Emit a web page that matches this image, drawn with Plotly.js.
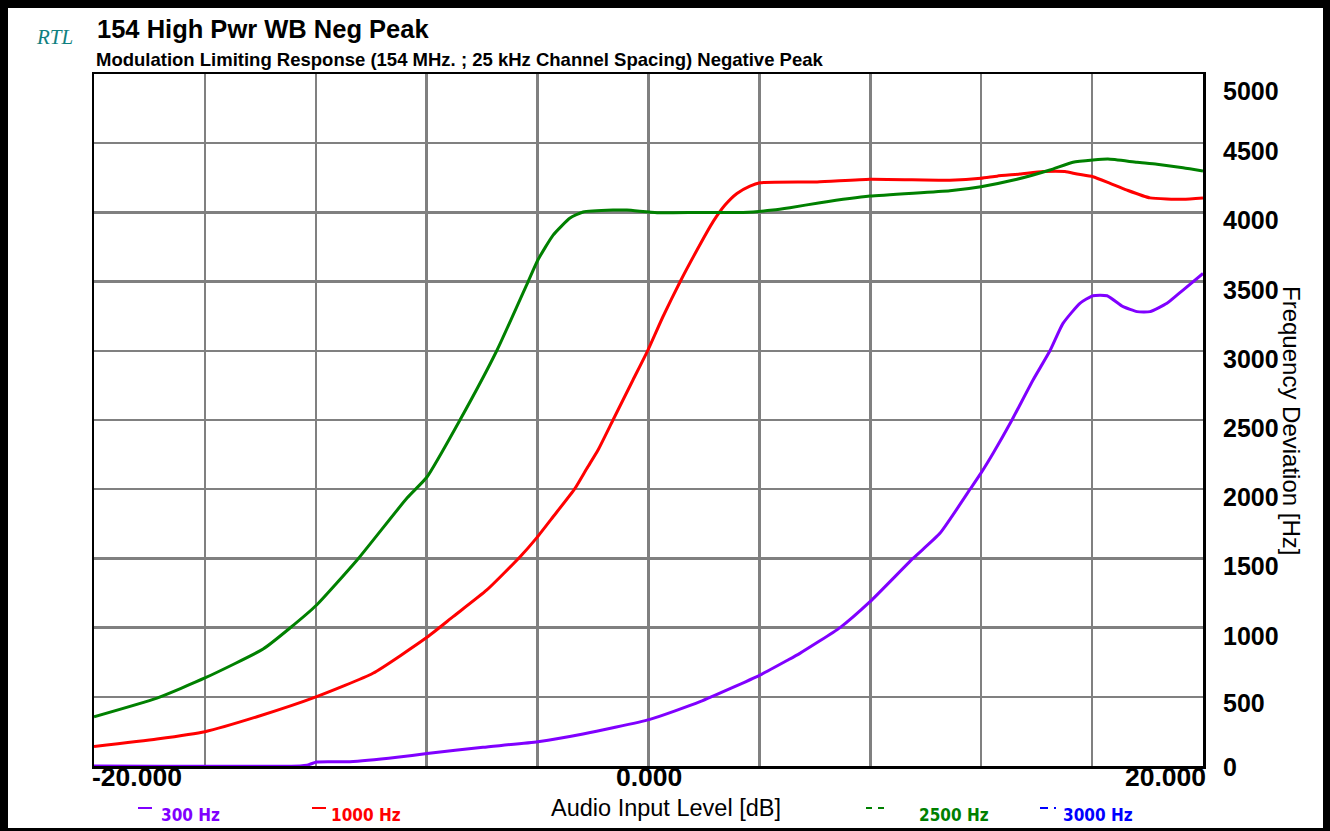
<!DOCTYPE html>
<html>
<head>
<meta charset="utf-8">
<script src="https://cdn.plot.ly/plotly-3.0.1.min.js"></script>
<style>
  html, body { margin: 0; padding: 0; background: #000; width: 1330px; height: 831px; overflow: hidden; }
  #chart { position: absolute; left: 8px; top: 8px; width: 1315px; height: 820px; background: #fff; }
</style>
</head>
<body>
<div id="chart"></div>
<script>
// ---- Data ----
const titleText = "154 High Pwr WB Neg Peak";
const subtitleText = "Modulation Limiting Response (154 MHz. ; 25 kHz Channel Spacing) Negative Peak";
const brandText = "RTL";
const xTitle = "Audio Input Level [dB]";
const yTitle = "Frequency Deviation [Hz]";

const xTickVals = [-20, 0, 20];
const xTickText = ["-20.000", "0.000", "20.000"];
const yTickVals = [0, 500, 1000, 1500, 2000, 2500, 3000, 3500, 4000, 4500, 5000];

const seriesNames = ["300 Hz", "1000 Hz", "2500 Hz", "3000 Hz"];
const seriesColors = ["#8000ff", "#ff0000", "#008000", "#0000ff"];

const s300x = [-20, -12.57, -12.32, -11.97, -10.77, -9.07, -7.99, -5.97, -3.99, -2.36, 0.05, 1.86, 4.02, 5.03, 5.46, 6.91, 7.99, 9.54, 10.51, 11.6, 11.99, 12.43, 13.11, 13.87, 14.48, 14.95, 15.56, 16.03, 16.54, 17.12, 17.62, 18.09, 18.7, 19.28, 20];
const s300y = [0, 0, 5, 29, 31, 63, 90, 135, 176, 231, 337, 465, 657, 766, 814, 1000, 1187, 1500, 1681, 2000, 2116, 2260, 2500, 2789, 3000, 3198, 3343, 3398, 3398, 3319, 3283, 3283, 3343, 3439, 3559];

const s1000x = [-20, -17.73, -16, -14.12, -11.97, -9.94, -7.99, -7.05, -5.83, -4.63, -4.02, -3.44, -2.65, -2.22, -1.82, -1.28, -0.56, -0.02, 0.52, 1.14, 1.75, 2.33, 2.76, 3.19, 3.66, 4.02, 6.08, 7.99, 10.87, 11.99, 12.57, 13.4, 14.23, 15.02, 15.46, 16.03, 16.65, 17.26, 18.09, 19.28, 20];
const s1000y = [140, 195, 248, 356, 501, 670, 930, 1079, 1272, 1512, 1652, 1801, 2006, 2151, 2283, 2500, 2789, 3005, 3246, 3499, 3728, 3933, 4053, 4137, 4190, 4214, 4220, 4240, 4233, 4246, 4262, 4277, 4295, 4295, 4277, 4258, 4210, 4161, 4105, 4095, 4105];

const s2500x = [-20, -17.73, -16, -13.9, -12.93, -11.97, -10.51, -8.71, -7.99, -6.8, -5.46, -4.35, -3.99, -3.44, -2.83, -2.36, -1.28, -0.78, 0.31, 1.86, 3.41, 4.49, 5.1, 6.19, 7.99, 10.87, 11.99, 13.29, 14.48, 15.31, 16.03, 16.57, 17.62, 18.34, 19.28, 20];
const s2500y = [356, 491, 636, 845, 997, 1163, 1488, 1936, 2088, 2500, 3006, 3497, 3656, 3836, 3959, 4003, 4017, 4017, 3998, 4000, 4000, 4017, 4034, 4070, 4118, 4157, 4186, 4239, 4306, 4362, 4378, 4385, 4362, 4348, 4323, 4299];

const s3000x = [];
const s3000y = [];

// ---- Traces ----
const xs = [s300x, s1000x, s2500x, s3000x];
const ys = [s300y, s1000y, s2500y, s3000y];
const drawOrder = [3, 1, 2, 0];
const traces = drawOrder.map(i => ({
  type: "scatter", mode: "lines", name: seriesNames[i],
  x: xs[i], y: ys[i],
  line: { color: seriesColors[i], width: 3, shape: "spline", smoothing: 0.5 },
  showlegend: false, hoverinfo: "skip"
}));

// ---- Layout helpers (pixel -> paper for plot area 94..1203 x 74..766) ----
const PX0 = 94, PX1 = 1203, PY0 = 74, PY1 = 766;
const px = v => (v - PX0) / (PX1 - PX0);
const py = v => (PY1 - v) / (PY1 - PY0);

const annotations = [];
const shapes = [];
const SANS = "Liberation Sans, Arial, sans-serif";

annotations.push({ xref: "paper", yref: "paper", x: px(95), y: py(29), xanchor: "left", yanchor: "middle",
  text: "<b>" + titleText + "</b>", showarrow: false,
  font: { family: SANS, size: 25.5, color: "#000" } });
annotations.push({ xref: "paper", yref: "paper", x: px(94), y: py(60), xanchor: "left", yanchor: "middle",
  text: "<b>" + subtitleText + "</b>", showarrow: false,
  font: { family: SANS, size: 18.5, color: "#000" } });
annotations.push({ xref: "paper", yref: "paper", x: px(34), y: py(37), xanchor: "left", yanchor: "middle",
  text: "<i>" + brandText + "</i>", showarrow: false,
  font: { family: "Liberation Serif, Times New Roman, serif", size: 21, color: "#108080" } });

// x tick labels (first left-aligned, middle centred, last right-aligned as in the reference)
const xAnch = ["left", "center", "right"];
const xShift = [-4, 0, 5];
xTickVals.forEach((v, i) => {
  annotations.push({ xref: "x", yref: "paper", x: v, y: py(777), xanchor: xAnch[i], yanchor: "middle",
    xshift: xShift[i],
    text: "<b>" + xTickText[i] + "</b>", showarrow: false,
    font: { family: SANS, size: 26.5, color: "#000" } });
});

// y tick labels on the right, offset below their gridlines like the reference
const yShift = yTickVals.map(v => v === 5000 ? -17 : (v === 0 ? -1 : (v === 500 ? -6 : -8)));
yTickVals.forEach((v, i) => {
  annotations.push({ xref: "paper", yref: "y", x: px(1221), y: v, xanchor: "left", yanchor: "middle",
    yshift: yShift[i],
    text: "<b>" + v + "</b>", showarrow: false,
    font: { family: SANS, size: 25, color: "#000" } });
});

// axis titles
annotations.push({ xref: "paper", yref: "paper", x: px(666), y: py(808), xanchor: "center", yanchor: "middle",
  text: xTitle, showarrow: false,
  font: { family: SANS, size: 23.5, color: "#000" } });
annotations.push({ xref: "paper", yref: "paper", x: px(1292), y: py(420), xanchor: "center", yanchor: "middle",
  text: yTitle, textangle: 90, showarrow: false,
  font: { family: SANS, size: 24, color: "#000" } });

// legend (manual, matching reference placement)
const legTextX = [159, 329, 917, 1061];
const legSamples = [
  [[138, 152]],
  [[312, 326]],
  [[866, 872], [878, 884]],
  [[1040, 1048], [1054, 1056]]
];
seriesNames.forEach((nm, i) => {
  annotations.push({ xref: "paper", yref: "paper", x: px(legTextX[i]), y: py(815), xanchor: "left", yanchor: "middle",
    text: "<b>" + nm + "</b>", showarrow: false,
    font: { family: "DejaVu Sans Condensed, Liberation Sans Narrow, Arial Narrow, sans-serif", size: 17, color: seriesColors[i] } });
  legSamples[i].forEach(seg => {
    shapes.push({ type: "line", xref: "paper", yref: "paper", x0: px(seg[0]), x1: px(seg[1]), y0: py(808), y1: py(808),
      line: { color: seriesColors[i], width: 2 } });
  });
});

const layout = {
  width: 1315, height: 820,
  margin: { l: 86, r: 120, t: 66, b: 62 },
  paper_bgcolor: "#ffffff", plot_bgcolor: "#ffffff",
  showlegend: false,
  xaxis: {
    range: [-20, 20], dtick: 4, tick0: -20, showticklabels: false, ticks: "",
    showgrid: true, gridcolor: "#808080", gridwidth: 2.5, zeroline: false,
    showline: true, linecolor: "#000", linewidth: 2.5, mirror: true, layer: "below traces"
  },
  yaxis: {
    range: [0, 5000], dtick: 500, tick0: 0, showticklabels: false, ticks: "",
    showgrid: true, gridcolor: "#808080", gridwidth: 2.5, zeroline: false,
    showline: true, linecolor: "#000", linewidth: 2.5, mirror: true, layer: "below traces"
  },
  annotations: annotations,
  shapes: shapes
};

Plotly.newPlot("chart", traces, layout, { staticPlot: true, displayModeBar: false });
</script>
</body>
</html>
